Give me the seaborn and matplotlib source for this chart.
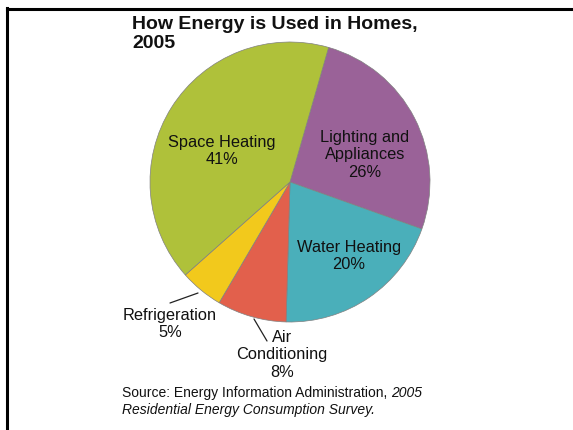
import matplotlib
matplotlib.use("Agg")
import matplotlib.pyplot as plt
from matplotlib.lines import Line2D
import seaborn as sns

sns.set_theme(style="white")
plt.rcParams["font.family"] = ["Liberation Sans", "DejaVu Sans"]

# Shares of household energy use, 2005 (percent), in clockwise order
categories = ["Lighting and\nAppliances", "Water Heating", "Air\nConditioning",
              "Refrigeration", "Space Heating"]
shares = [26, 20, 8, 5, 41]
colors = ["#9a6298", "#4aafba", "#e2604c", "#f2c91c", "#afc13a"]

W, H = 573, 430
fig = plt.figure(figsize=(W / 100, H / 100), dpi=100)
fig.patch.set_facecolor("white")

# pie placed by pixel centre and radius
cx, cy, r = 290, 182, 140
ax = fig.add_axes([(cx - r) / W, (H - cy - r) / H, 2 * r / W, 2 * r / H])
ax.pie(shares, colors=colors, startangle=74, counterclock=False, radius=1,
       wedgeprops=dict(edgecolor="#808080", linewidth=0.5))
ax.set_xlim(-1, 1)
ax.set_ylim(-1, 1)
ax.set_aspect("equal")
ax.axis("off")


def px(x, y):
    return x / W, 1 - y / H


# slice labels
lab_pos = {
    "Lighting and\nAppliances": (365, 155),
    "Water Heating": (349, 256),
    "Air\nConditioning": (282, 355),
    "Refrigeration": (170, 324),
    "Space Heating": (222, 151),
}
for cat, val in zip(categories, shares):
    x, y = lab_pos[cat]
    fig.text(*px(x, y), f"{cat}\n{val}%", ha="center", va="center",
             fontsize=11.8, linespacing=1.2, color="#111111")

# leader lines for the small slices
for (x0, y0), (x1, y1) in [((170, 303), (198, 293)), ((254, 319), (267, 341))]:
    fig.add_artist(Line2D([x0 / W, x1 / W], [1 - y0 / H, 1 - y1 / H],
                          transform=fig.transFigure, color="#222222", lw=0.9))

# title
fig.text(*px(132, 16), "How Energy is Used in Homes,\n2005", ha="left", va="top",
         fontsize=14, fontweight="bold", linespacing=1.18, color="#111111")

# source note
src = fig.text(*px(122, 397), "Source: Energy Information Administration, ",
               ha="left", va="baseline", fontsize=10, color="#111111")
ax.annotate("2005", xy=(1, 0), xycoords=src, ha="left", va="bottom",
            fontsize=10, style="italic", color="#111111")
fig.text(*px(122, 414), "Residential Energy Consumption Survey.", ha="left",
         va="baseline", fontsize=10, style="italic", color="#111111")

# slide frame on the left and top edges
fig.add_artist(Line2D([7 / W, 7 / W], [0, 1 - 8 / H], transform=fig.transFigure,
                      color="black", lw=2.2, solid_capstyle="projecting"))
fig.add_artist(Line2D([7 / W, 1], [1 - 9 / H, 1 - 9 / H], transform=fig.transFigure,
                      color="black", lw=2.2, solid_capstyle="projecting"))

fig.savefig("out.png", dpi=100, facecolor="white")
